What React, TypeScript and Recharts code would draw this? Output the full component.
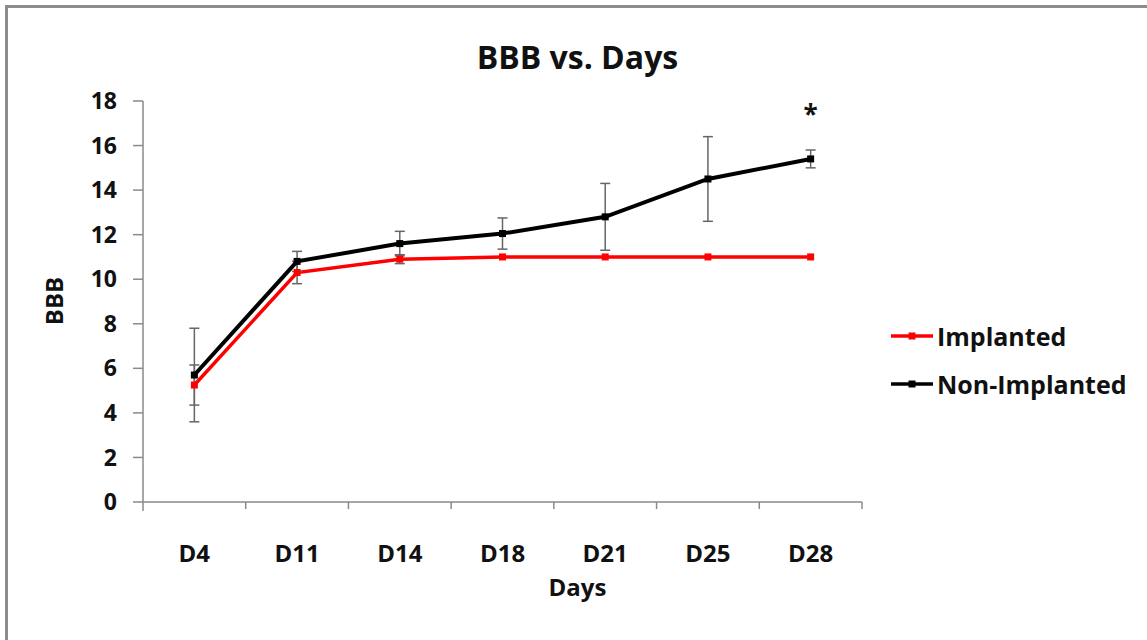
import { LineChart, Line, XAxis, YAxis, ErrorBar, Legend } from "recharts";

const days = ["D4", "D11", "D14", "D18", "D21", "D25", "D28"];
const implanted = [5.25, 10.3, 10.9, 11, 11, 11, 11];
const implantedErr = [0.9, 0.5, 0.2, 0, 0, 0, 0];
const nonImplanted = [5.7, 10.8, 11.6, 12.05, 12.8, 14.5, 15.4];
const nonImplantedErr = [2.1, 0.45, 0.55, 0.7, 1.5, 1.9, 0.4];
const significance = ["", "", "", "", "", "", "*"];
const yTicks = [0, 2, 4, 6, 8, 10, 12, 14, 16, 18];

const data = days.map((day, i) => ({
  day,
  implanted: implanted[i],
  implantedErr: implantedErr[i],
  nonImplanted: nonImplanted[i],
  nonImplantedErr: nonImplantedErr[i],
  sig: significance[i],
}));

const FONT = "'Open Sans', sans-serif";
const AXIS = "#8a8a8a";
const PLOT_LEFT = 143;
const PLOT_RIGHT = 862;
const BAND = (PLOT_RIGHT - PLOT_LEFT) / days.length;

const squareDot = (color: string) => (props: any) => {
  const { cx, cy, index } = props;
  if (cx == null || cy == null) return <g key={index} />;
  return <rect key={index} x={cx - 3.5} y={cy - 3.5} width={7} height={7} fill={color} />;
};

const DayTick = (props: any) => {
  const { x, y, payload, index } = props;
  return (
    <g>
      {index === 0 && (
        <line x1={x - BAND / 2} y1={y} x2={x - BAND / 2} y2={y + 9} stroke={AXIS} strokeWidth={1.5} />
      )}
      <line x1={x + BAND / 2} y1={y} x2={x + BAND / 2} y2={y + 7} stroke={AXIS} strokeWidth={1.5} />
      <text
        x={x}
        y={y + 50}
        textAnchor="middle"
        dominantBaseline="central"
        fontFamily={FONT}
        fontWeight="bold"
        fontSize={24}
        fill="#111"
      >
        {payload.value}
      </text>
    </g>
  );
};

const SigLabel = (props: any) => {
  const { x, y, index } = props;
  const mark = significance[index];
  if (!mark) return null;
  return (
    <text x={x} y={y - 45} textAnchor="middle" dominantBaseline="central" fontFamily={FONT} fontWeight="bold" fontSize={26} fill="#111">
      {mark}
    </text>
  );
};

const renderLegend = (props: any) => {
  const { payload } = props;
  return (
    <div style={{ fontFamily: FONT, fontWeight: "bold", fontSize: 25, color: "#111" }}>
      {payload.map((entry: any) => (
        <div key={entry.value} style={{ display: "flex", alignItems: "center", height: 48 }}>
          <svg width={46} height={12} style={{ marginRight: 2 }}>
            <line x1={2} y1={6} x2={44} y2={6} stroke={entry.color} strokeWidth={3.5} />
            <rect x={19.5} y={2.5} width={7} height={7} fill={entry.color} />
          </svg>
          <span>{entry.value}</span>
        </div>
      ))}
    </div>
  );
};

export default function App() {
  return (
    <div style={{ position: "absolute", left: 0, top: 0, width: 1147, height: 640, background: "#fff", overflow: "hidden" }}>
      <div
        style={{
          position: "absolute",
          left: 5,
          top: 5,
          width: 1160,
          height: 660,
          borderTop: "3px solid #8c8c8c",
          borderLeft: "3px solid #8c8c8c",
        }}
      />
      <div
        style={{
          position: "absolute",
          left: 0,
          width: 1147,
          top: 35,
          textAlign: "center",
          fontFamily: FONT,
          fontWeight: "bold",
          fontSize: 32,
          lineHeight: "44px",
          color: "#111",
          paddingLeft: 8,
          boxSizing: "border-box",
        }}
      >
        BBB vs. Days
      </div>
      <div
        style={{
          position: "absolute",
          left: 0,
          width: 1147,
          top: 570,
          textAlign: "center",
          fontFamily: FONT,
          fontWeight: "bold",
          fontSize: 24,
          lineHeight: "34px",
          color: "#111",
          paddingLeft: 8,
          boxSizing: "border-box",
        }}
      >
        Days
      </div>
      <LineChart
        width={1147}
        height={640}
        data={data}
        margin={{ top: 101, right: 285, bottom: 78, left: 83 }}
        style={{ position: "absolute", left: 0, top: 0 }}
      >
        <XAxis
          dataKey="day"
          scale="band"
          height={60}
          stroke={AXIS}
          strokeWidth={1.5}
          tickLine={false}
          tickSize={0}
          tickMargin={0}
          tick={<DayTick />}
          interval={0}
        />
        <YAxis
          width={60}
          domain={[0, 18]}
          ticks={yTicks}
          interval={0}
          stroke={AXIS}
          strokeWidth={1.5}
          tickSize={10}
          tickMargin={16}
          tick={{ fontFamily: FONT, fontWeight: "bold", fontSize: 23, fill: "#111" }}
          label={{
            content: () => (
              <text
                x={53}
                y={301}
                transform="rotate(-90 53 301)"
                textAnchor="middle"
                dominantBaseline="central"
                fontFamily={FONT}
                fontWeight="bold"
                fontSize={24}
                fill="#111"
              >
                BBB
              </text>
            ),
          }}
        />
        <Legend
          layout="vertical"
          align="center"
          verticalAlign="middle"
          wrapperStyle={{ left: 889, top: 312, width: 258 }}
          content={renderLegend}
        />
        <Line
          dataKey="implanted"
          name="Implanted"
          stroke="#ff0000"
          strokeWidth={3.5}
          dot={squareDot("#ff0000")}
          activeDot={false}
          isAnimationActive={false}
        >
          <ErrorBar dataKey="implantedErr" width={5} stroke="#666" strokeWidth={1.5} />
        </Line>
        <Line
          dataKey="nonImplanted"
          name="Non-Implanted"
          stroke="#000"
          strokeWidth={4}
          dot={squareDot("#000")}
          activeDot={false}
          isAnimationActive={false}
          label={<SigLabel />}
        >
          <ErrorBar dataKey="nonImplantedErr" width={5} stroke="#666" strokeWidth={1.5} />
        </Line>
      </LineChart>
    </div>
  );
}
